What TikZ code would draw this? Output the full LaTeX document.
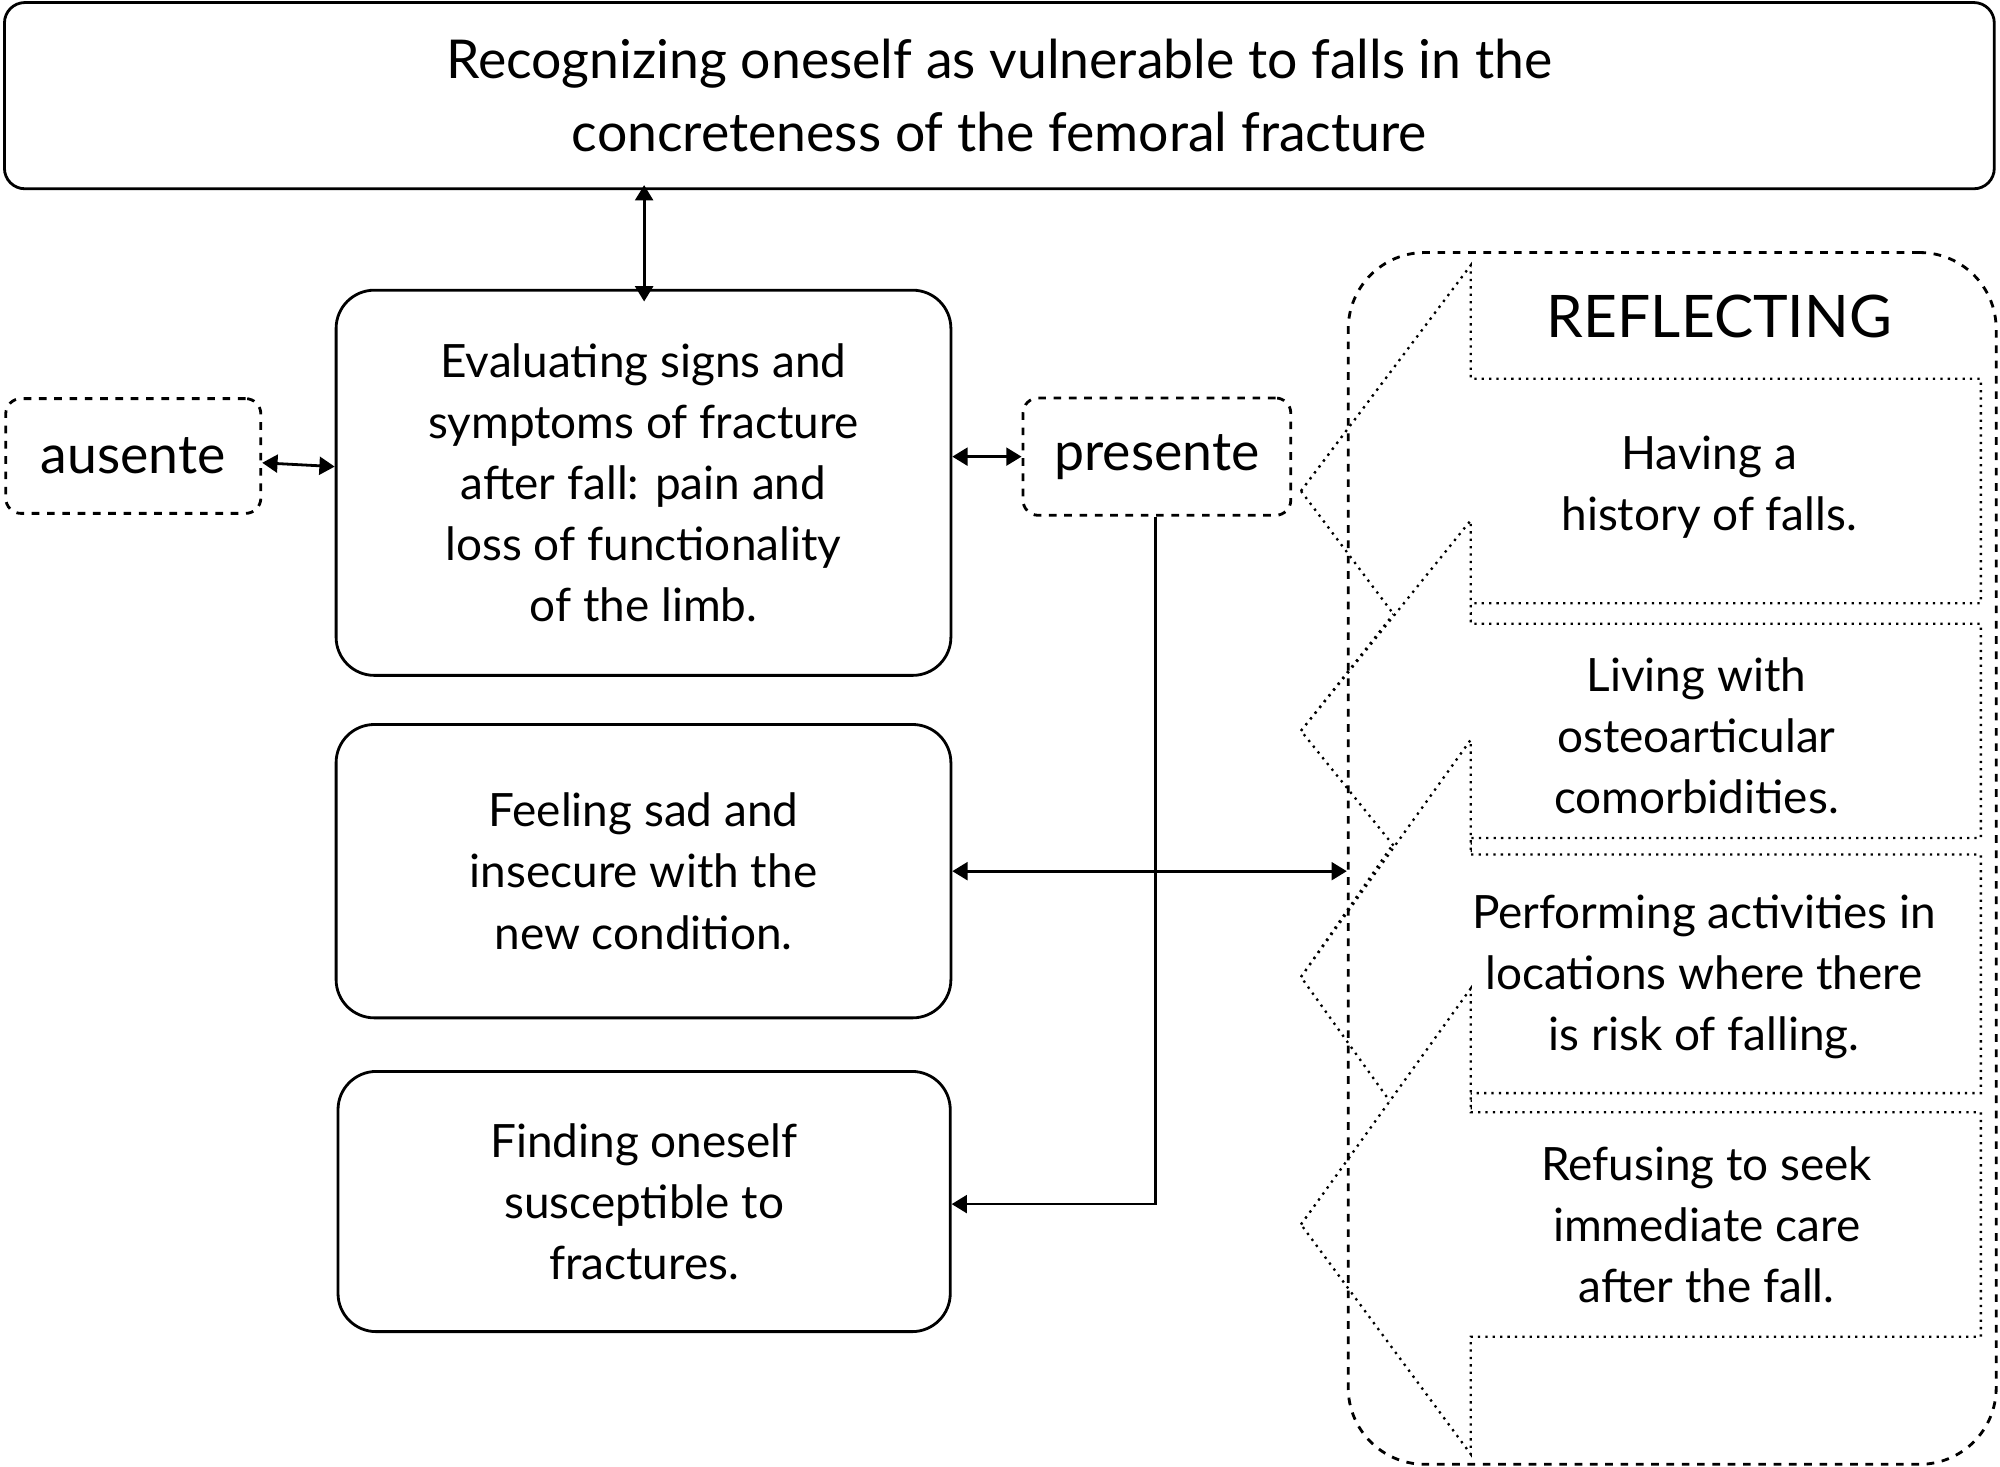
\documentclass[tikz,border=0pt]{standalone}
\usepackage{fontspec}
\setmainfont{Lato}
\usetikzlibrary{arrows.meta}
\tikzset{every picture/.style={line width=1.1pt}}
\tikzset{
  box/.style={draw,rounded corners=15pt,align=center,font=\fontsize{18}{24}\selectfont},
  dbox/.style={draw,dashed,rounded corners=6pt,font=\fontsize{21}{24}\selectfont},
  arr/.style={-{Triangle[length=6pt,width=7pt]}},
  darr/.style={{Triangle[length=6pt,width=7pt]}-{Triangle[length=6pt,width=7pt]}},
  pointer/.style={draw,dotted,fill=white,line width=0.9pt},
  txt/.style={align=center,font=\fontsize{18}{24}\selectfont}
}
\begin{document}
\begin{tikzpicture}[x=0.5pt,y=0.5pt,yscale=-1,xscale=1]
\useasboundingbox (0,0) rectangle (1568,1150);

% top box
\node [box,rounded corners=8pt,minimum width=780pt,minimum height=73pt,font=\fontsize{21}{28.5}\selectfont] (top) at (783.5,75) {Recognizing oneself as vulnerable to falls in the\\concreteness of the femoral fracture};

% left column
\node [box,minimum width=241pt,minimum height=151pt] (eval) at (504.5,378.5) {Evaluating signs and\\symptoms of fracture\\after fall: pain and\\loss of functionality\\of the limb.};
\node [box,minimum width=241pt,minimum height=115pt] (sad) at (504.5,683) {Feeling sad and\\insecure with the\\new condition.};
\node [box,minimum width=240pt,minimum height=102pt] (frac) at (505,942) {Finding oneself\\susceptible to\\fractures.};

% pointers (drawn in order, later ones cover earlier)
\foreach \t/\a/\b in {385/297/473, 573/489/657, 766/670/857, 960/872/1048}{
  \pgfmathsetmacro\h{\t-\a+(\a-\t)*0+ (\t-\a)*0}
  \draw [pointer] (1020,\t) -- (1153,{\t-(\t-\a)*2+\t-\t+(\a-\t)*0-(\t-\a)*0}) ;
}
\draw [pointer] (1020,385) -- (1153,208) -- (1153,297) -- (1553,297) -- (1553,473) -- (1153,473) -- (1153,562) -- cycle;
\draw [pointer] (1020,573) -- (1153,408) -- (1153,489) -- (1553,489) -- (1553,657) -- (1153,657) -- (1153,738) -- cycle;
\draw [pointer] (1020,766) -- (1153,580) -- (1153,670) -- (1553,670) -- (1553,857) -- (1153,857) -- (1153,952) -- cycle;
\draw [pointer] (1020,960) -- (1153,775) -- (1153,872) -- (1553,872) -- (1553,1048) -- (1153,1048) -- (1153,1140) -- cycle;

% container
\node [draw,dashed,rounded corners=30pt,minimum width=254pt,minimum height=475pt] (refl) at (1311,673) {};
\node [font=\fontsize{23}{24}\selectfont] (title) at (1348,248) {REFLECTING};
\node [txt] (r1) at (1340,382) {Having a\\history of falls.};
\node [txt] (r2) at (1330,577) {Living with\\osteoarticular\\comorbidities.};
\node [txt] (r3) at (1336,766) {Performing activities in\\locations where there\\is risk of falling.};
\node [txt] (r4) at (1338,960) {Refusing to seek\\immediate care\\after the fall.};

% dashed labels
\node [dbox,minimum width=100pt,minimum height=45pt] (aus) at (104.5,357.5) {ausente};
\node [dbox,minimum width=105pt,minimum height=46pt] (pres) at (907,358) {presente};

% connectors
\draw [darr] ([yshift=-2pt]top.south -| 505,0) -- ([yshift=5pt]eval.north -| 505,0);
\draw [darr] (aus) -- (eval);
\draw [darr] (eval.east |- pres) -- (pres);
\draw [darr] (sad.east) -- (refl.west |- sad.east);
\coordinate (bend) at (906,944);
\draw [arr] (pres.south -| bend) -- (bend) -- (frac.east |- bend);
\end{tikzpicture}
\end{document}
